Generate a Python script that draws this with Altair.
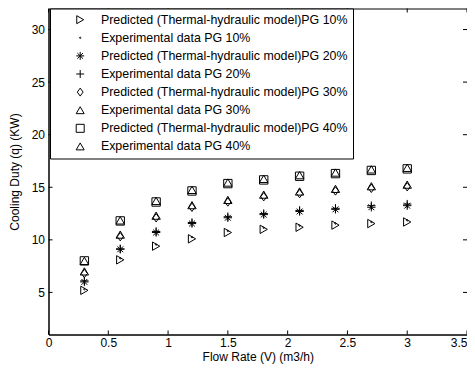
import altair as alt
import pandas as pd

flow = [0.3, 0.6, 0.9, 1.2, 1.5, 1.8, 2.1, 2.4, 2.7, 3.0]
pred10 = [5.2, 8.1, 9.4, 10.1, 10.7, 11.0, 11.2, 11.4, 11.55, 11.7]
exp10 = [5.3, 8.25, 9.55, 10.25, 10.85, 11.15, 11.35, 11.55, 11.7, 11.85]
pred20 = [6.0, 9.1, 10.7, 11.55, 12.1, 12.4, 12.7, 12.9, 13.1, 13.25]
exp20 = [6.1, 9.15, 10.8, 11.65, 12.2, 12.5, 12.8, 13.0, 13.25, 13.4]
pred30 = [6.8, 10.3, 12.1, 13.1, 13.6, 14.1, 14.4, 14.65, 14.9, 15.05]
exp30 = [7.0, 10.5, 12.3, 13.3, 13.8, 14.3, 14.6, 14.85, 15.1, 15.25]
pred40 = [8.0, 11.8, 13.6, 14.65, 15.35, 15.7, 16.05, 16.3, 16.6, 16.75]
exp40 = [8.0, 11.85, 13.7, 14.75, 15.45, 15.8, 16.15, 16.4, 16.7, 16.85]

series_names = [
    "Predicted (Thermal-hydraulic model)PG 10%",
    "Experimental data PG 10%",
    "Predicted (Thermal-hydraulic model)PG 20%",
    "Experimental data PG 20%",
    "Predicted (Thermal-hydraulic model)PG 30%",
    "Experimental data PG 30%",
    "Predicted (Thermal-hydraulic model)PG 40%",
    "Experimental data PG 40%",
]
series_values = [pred10, exp10, pred20, exp20, pred30, exp30, pred40, exp40]

x_ticks = [0, 0.5, 1, 1.5, 2, 2.5, 3, 3.5]
y_ticks = [5, 10, 15, 20, 25, 30]

DOT = "M0,-0.17A0.17,0.17,0,1,1,0,0.17A0.17,0.17,0,1,1,0,-0.17Z"
ASTERISK = "M-1,0L1,0M0,-1L0,1M-0.7,-0.7L0.7,0.7M-0.7,0.7L0.7,-0.7"
PLUS = "M-1,0L1,0M0,-1L0,1"
DIAMOND = "M0,-1L0.72,0L0,1L-0.72,0Z"
shapes = ["triangle-right", DOT, ASTERISK, PLUS, DIAMOND, "triangle-up", "square", "triangle-up"]

rows = []
for name, vals in zip(series_names, series_values):
    for f, v in zip(flow, vals):
        rows.append({"flow": f, "duty": v, "series": name})
df = pd.DataFrame(rows)
xt = pd.DataFrame({"flow": x_ticks})
yt = pd.DataFrame({"duty": y_ticks})

W, H = 418.5, 326
FONT = "Liberation Sans"

xscale = alt.Scale(domain=[0, 3.5], nice=False, zero=False)
yscale = alt.Scale(domain=[1, 32], nice=False, zero=False)
xaxis = alt.Axis(values=x_ticks, format="~g", grid=False, ticks=False, tickSize=0,
                 labelAlign={"condition": {"test": "datum.value >= 3.5", "value": "right"}, "value": "center"},
                 labelPadding=3, titlePadding=2.5, domainColor="black", labelColor="black",
                 titleColor="black", labelFont=FONT, titleFont=FONT, labelFontSize=12,
                 titleFontSize=12, titleFontWeight="normal")
yaxis = alt.Axis(values=y_ticks, format="~g", grid=False, ticks=False, tickSize=0,
                 labelPadding=4, titlePadding=10, domainColor="black", labelColor="black",
                 titleColor="black", labelFont=FONT, titleFont=FONT, labelFontSize=12,
                 titleFontSize=12, titleFontWeight="normal")
xenc = alt.X("flow:Q", scale=xscale, axis=xaxis, title="Flow Rate (V) (m3/h)")
yenc = alt.Y("duty:Q", scale=yscale, axis=yaxis, title="Cooling Duty (q) (KW)")

points = alt.Chart(df).mark_point(filled=False, color="black", strokeWidth=1, size=70, opacity=1).encode(
    x=xenc,
    y=yenc,
    shape=alt.Shape(
        "series:N",
        scale=alt.Scale(domain=series_names, range=shapes),
        sort=series_names,
        legend=alt.Legend(
            title=None, orient="none", legendX=1.5, legendY=0, direction="vertical",
            padding=5, strokeColor="black", fillColor="white",
            labelFont=FONT, labelFontSize=12.4, labelColor="black", labelLimit=400,
            symbolSize=64, symbolOffset=19, labelOffset=14.5, rowPadding=5.1,
            symbolStrokeWidth=1, symbolStrokeColor="black", symbolFillColor="transparent",
        ),
    ),
)

tick_len = 4
xb = alt.Chart(xt).mark_rule(color="black", strokeWidth=1).encode(
    x=xenc, y=alt.value(H), y2=alt.value(H - tick_len))
xtop = alt.Chart(xt).mark_rule(color="black", strokeWidth=1).encode(
    x=xenc, y=alt.value(0), y2=alt.value(tick_len))
yl = alt.Chart(yt).mark_rule(color="black", strokeWidth=1).encode(
    y=yenc, x=alt.value(0), x2=alt.value(tick_len))
yr = alt.Chart(yt).mark_rule(color="black", strokeWidth=1).encode(
    y=yenc, x=alt.value(W - tick_len), x2=alt.value(W))

chart = alt.layer(xb, xtop, yl, yr, points).properties(
    width=W, height=H,
    autosize=alt.AutoSizeParams(type="none"),
    padding={"left": 40.5, "top": 0.5, "right": 0, "bottom": 30.5},
    background="white",
).configure_view(stroke="black", strokeWidth=1)

chart.save("out.html", embed_options={"renderer": "svg", "actions": False})
